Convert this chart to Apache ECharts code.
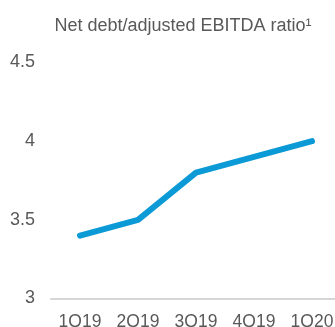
<!DOCTYPE html>
<html>
<head>
<meta charset="utf-8">
<style>
  html, body { margin: 0; padding: 0; background: #fff; overflow: hidden; }
  #chart { width: 335px; height: 327px; }
</style>
<script src="https://cdn.jsdelivr.net/npm/echarts@6/dist/echarts.min.js"></script>
</head>
<body>
<div id="chart"></div>
<script>
// Quarterly net debt to adjusted EBITDA
const quarters = ['1Q19', '2Q19', '3Q19', '4Q19', '1Q20'];
const ratio = [3.4, 3.5, 3.8, 3.9, 4.0];
const yTicks = { min: 3, max: 4.5, step: 0.5 };

const chart = echarts.init(document.getElementById('chart'), null, { renderer: 'canvas', width: 335, height: 327 });
const textColor = '#595959';
const font = 'Arial, "Liberation Sans", sans-serif';

chart.setOption({
  animation: false,
  title: {
    text: 'Net debt/adjusted EBITDA ratio\u00b9',
    left: 178,
    textAlign: 'center',
    top: 12,
    textStyle: { color: textColor, fontSize: 18, fontWeight: 'normal', fontFamily: font }
  },
  grid: { left: 51, top: 62.5, width: 290, height: 236, containLabel: false, outerBoundsMode: 'none' },
  xAxis: {
    type: 'category',
    data: quarters,
    boundaryGap: true,
    axisLine: { show: true, onZero: false, lineStyle: { color: '#d6d6d6', width: 2 } },
    axisTick: { show: false },
    axisLabel: { color: textColor, fontSize: 17.5, fontFamily: font, margin: 15, interval: 0 },
    splitLine: { show: false }
  },
  yAxis: {
    type: 'value',
    min: yTicks.min,
    max: yTicks.max,
    interval: yTicks.step,
    axisLine: { show: false },
    axisTick: { show: false },
    splitLine: { show: false },
    axisLabel: { color: textColor, fontSize: 18, fontFamily: font, margin: 16 }
  },
  series: [{
    type: 'line',
    data: ratio,
    symbol: 'none',
    lineStyle: { color: '#0b9ad6', width: 6, cap: 'round', join: 'round' },
    itemStyle: { color: '#0b9ad6' }
  }]
});
</script>
</body>
</html>
